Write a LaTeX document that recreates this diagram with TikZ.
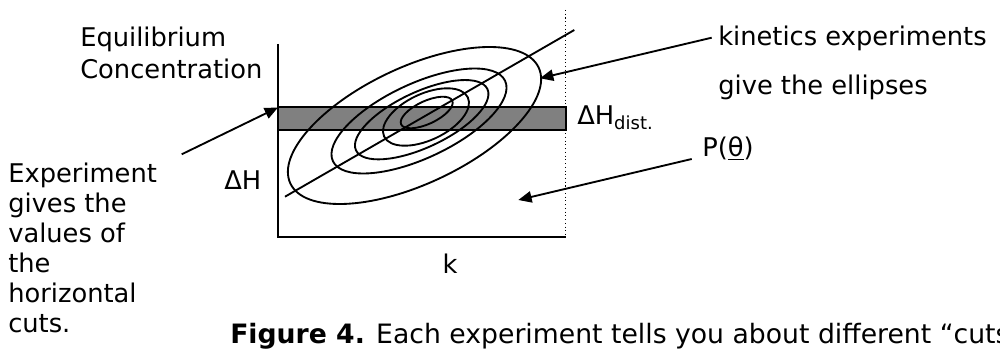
\documentclass[tikz,border=0pt]{standalone}
\usepackage{fontspec}
\setmainfont{DejaVu Sans}
\usetikzlibrary{arrows.meta,positioning}

\begin{document}
\begin{tikzpicture}[
    x=0.75pt, y=-0.75pt,
    axis/.style={line width=1.5pt},
    band/.style={draw=black, line width=1.5pt, fill=gray},
    contour/.style={line width=1.4pt},
    pointer/.style={line width=1.4pt, -{Triangle[length=10pt, width=8.5pt]}},
    txt/.style={font=\fontsize{19.3}{22.5}\selectfont, inner sep=0pt, anchor=base west},
    figcap/.style={font=\fontsize{20}{24}\selectfont, inner sep=0pt, anchor=base west}
]
\useasboundingbox (0,0) rectangle (1000,349);

% Axes and limit line
\draw[axis] (278,44) -- (278,237) -- (565.7,237);
\draw[dotted, line width=0.8pt] (565.7,10) -- (565.7,237);

% Horizontal cut
\draw[band] (278,107.5) rectangle (565.7,130);

% Ellipses and their axis
\foreach \cx/\cy/\ra/\rb in {414.5/125.5/137/58.5, 419/121/95/37.3, 421.7/119.7/72.5/27.8, 426/117/46.2/23.2, 426.7/112.5/28.2/11.4}
  \draw[contour, rotate around={25:(\cx,\cy)}] (\cx,\cy) ellipse [x radius=\ra, y radius=\rb];
\draw[contour] (285,196.7) -- (574.3,30);

% Axis labels (base = last line)
\node[txt, align=left, font=\fontsize{19.3}{23.7}\selectfont] (ylabel) at (80,78.3) {Equilibrium\\Concentration};
\node[txt] (dh) at (224,190) {ΔH};
\node[txt, anchor=base] (kaxis) at (450,273.3) {k};
\node[txt] (dhdist) at (577,125) {ΔH\textsubscript{dist.}};

% Notes
\node[txt, align=left] (cutsnote) at (8,332.7) {Experiment\\gives the\\values of\\the\\horizontal\\cuts.};
\node[txt] (kinnote) at (718,46) {kinetics experiments};
\node[txt] (kinnote2) at (718,95) {give the ellipses};
\node[txt] (ptheta) at (702,156.7) {P(\underline{θ})};

% Pointers
\coordinate (notefrom) at (181.7,154.3);
\coordinate (bandtip) at (278,107.5);
\coordinate (kinfrom) at (711.7,37.7);
\coordinate (ringtip) at (540,78.3);
\coordinate (pfrom) at (691.7,159);
\coordinate (densitytip) at (518.3,200);
\draw[pointer] (notefrom) -- (bandtip);
\draw[pointer] (kinfrom) -- (ringtip);
\draw[pointer] (pfrom) -- (densitytip);

% Caption
\node[figcap] (cap) at (230,343.3) {\textbf{Figure 4.} Each experiment tells you about different “cuts};

\end{tikzpicture}
\end{document}
